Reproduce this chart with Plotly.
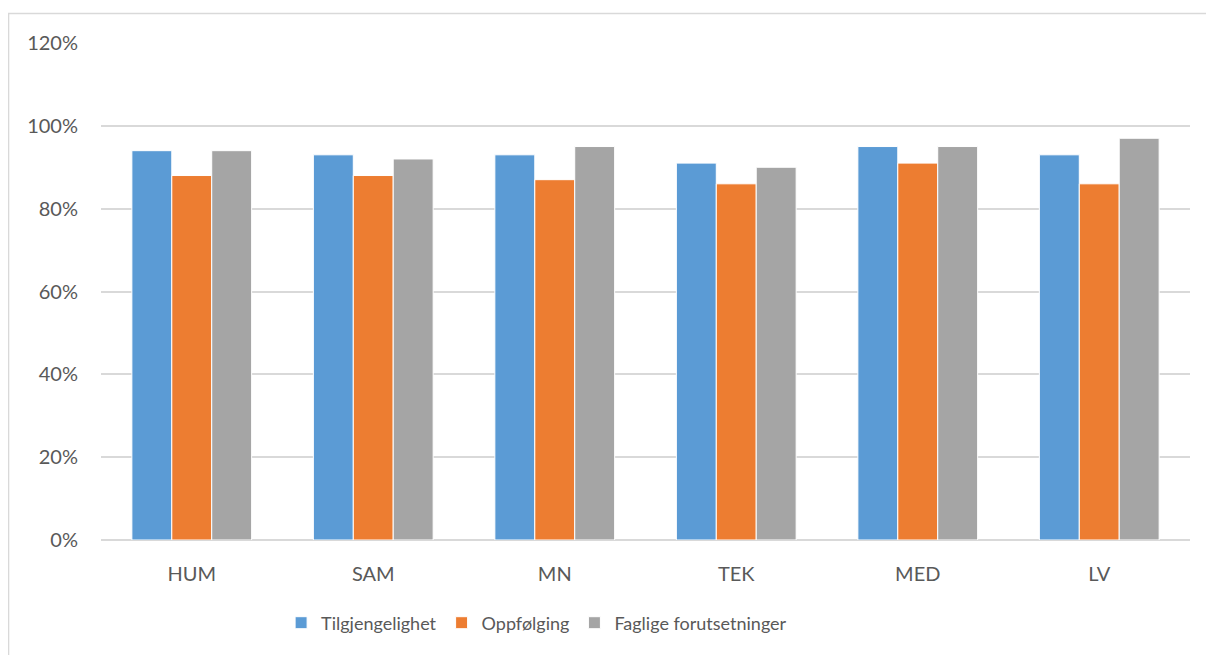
import plotly.graph_objects as go

categories = ["HUM", "SAM", "MN", "TEK", "MED", "LV"]
tilgjengelighet = [0.94, 0.93, 0.93, 0.91, 0.95, 0.93]
oppfolging = [0.88, 0.88, 0.87, 0.86, 0.91, 0.86]
faglige = [0.94, 0.92, 0.95, 0.90, 0.95, 0.97]
series_names = ["Tilgjengelighet", "Oppfølging", "Faglige forutsetninger"]
colors = ["#5B9BD5", "#ED7D31", "#A5A5A5"]
tick_vals = [0, 0.2, 0.4, 0.6, 0.8, 1.0, 1.2]
tick_text = ["0%", "20%", "40%", "60%", "80%", "100%", "120%"]

fig = go.Figure()
for name, vals, col in zip(series_names, [tilgjengelighet, oppfolging, faglige], colors):
    fig.add_trace(go.Bar(
        x=categories, y=vals, name=name,
        marker=dict(color=col, line=dict(color="white", width=1)),
    ))

font_family = "Lato, 'Open Sans', sans-serif"
fs = 20
fig.update_layout(
    width=1206, height=647,
    margin=dict(l=93, r=24, t=35, b=115),
    paper_bgcolor="white", plot_bgcolor="white",
    barmode="group", bargap=0.34, bargroupgap=0,
    font=dict(family=font_family, size=fs, color="#595959"),
    xaxis=dict(showgrid=False, showline=False, ticks="", ticklabelstandoff=20,
               tickfont=dict(size=fs, color="#595959")),
    yaxis=dict(range=[0, 1.2], tickvals=tick_vals, ticktext=tick_text,
               showgrid=True, gridcolor="#D9D9D9", gridwidth=1.5,
               zeroline=True, zerolinecolor="#D9D9D9", zerolinewidth=1.5,
               showline=False, ticks="", ticklabelstandoff=22,
               tickfont=dict(size=fs, color="#595959")),
    showlegend=True,
    legend=dict(orientation="h", x=0.40, xanchor="center", y=-0.167, yanchor="middle",
                font=dict(size=18, color="#595959"), itemwidth=30, traceorder="normal"),
    shapes=[dict(type="rect", xref="paper", yref="paper",
                 x0=-0.0849, x1=1.05, y0=-0.3, y1=1.0594,
                 line=dict(color="#D9D9D9", width=1.5), fillcolor="rgba(0,0,0,0)", layer="below")],
)

fig.write_html("out.html")
